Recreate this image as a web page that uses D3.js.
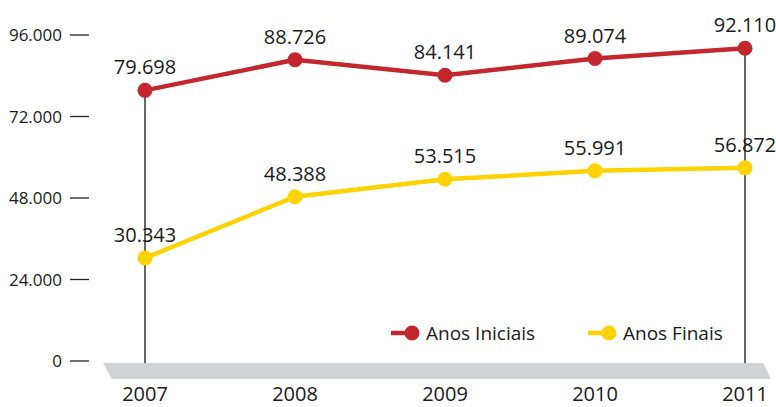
<!DOCTYPE html>
<html>
<meta charset="utf-8">
<script src="https://d3js.org/d3.v7.min.js"></script>
<style>
  body { margin: 0; background: #fff; }
  text { font-family: "Open Sans", "Noto Sans", sans-serif; fill: #1a1a1a; }
</style>
<body>
<div id="chart"></div>
<script>

// data
var years = ["2007", "2008", "2009", "2010", "2011"];
var anosIniciais = [79698, 88726, 84141, 89074, 92110];
var anosFinais = [30343, 48388, 53515, 55991, 56872];
var yTicks = [0, 24000, 48000, 72000, 96000];
var seriesNames = ["Anos Iniciais", "Anos Finais"];
var seriesColors = ["#c4262e", "#ffd200"];

var width = 776, height = 407;

var svg = d3.select("#chart")
    .append("svg")
        .attr("width", width)
        .attr("height", height);

// scales
var x = d3.scalePoint()
    .domain(years)
    .range([145, 745]);

var y = d3.scaleLinear()
    .domain([0, 96000])
    .range([361, 35]);

// pt-BR style thousands
var fmt = function(d) { return d3.format(",")(d).replace(/,/g, "."); };

// gray base band (slanted)
svg.append("path")
    .attr("d", "M103,363 L763,363 L771,379 L112,379 Z")
    .attr("fill", "#d1d2d4");

// Y axis: labels + short dashes
var yAxis = svg.append("g");
yAxis.selectAll("line")
    .data(yTicks)
    .enter()
    .append("line")
        .attr("x1", 70)
        .attr("x2", 89)
        .attr("y1", function(d) { return y(d); })
        .attr("y2", function(d) { return y(d); })
        .attr("stroke", "#222")
        .attr("stroke-width", 1.3);
yAxis.selectAll("text")
    .data(yTicks)
    .enter()
    .append("text")
        .attr("x", 62)
        .attr("y", function(d) { return y(d); })
        .attr("dy", "0.36em")
        .attr("text-anchor", "end")
        .style("font-size", "17px")
        .text(function(d) { return d === 0 ? "0" : fmt(d); });

// X labels
svg.selectAll(".year")
    .data(years)
    .enter()
    .append("text")
        .attr("class", "year")
        .attr("x", function(d) { return x(d); })
        .attr("y", 401)
        .attr("text-anchor", "middle")
        .style("font-size", "20px")
        .text(function(d) { return d; });

// vertical drop lines at first and last year
[0, years.length - 1].forEach(function(i) {
    svg.append("line")
        .attr("x1", x(years[i]))
        .attr("x2", x(years[i]))
        .attr("y1", y(anosIniciais[i]))
        .attr("y2", 363)
        .attr("stroke", "#333")
        .attr("stroke-width", 1.5);
});

// lines, dots, labels
var line = d3.line()
    .x(function(d, i) { return x(years[i]); })
    .y(function(d) { return y(d); });

[anosIniciais, anosFinais].forEach(function(vals, s) {
    svg.append("path")
        .datum(vals)
        .attr("d", line)
        .attr("fill", "none")
        .attr("stroke", seriesColors[s])
        .attr("stroke-width", 4.5);

    svg.selectAll(".dot" + s)
        .data(vals)
        .enter()
        .append("circle")
            .attr("cx", function(d, i) { return x(years[i]); })
            .attr("cy", function(d) { return y(d); })
            .attr("r", 7.5)
            .attr("fill", seriesColors[s]);

    svg.selectAll(".lbl" + s)
        .data(vals)
        .enter()
        .append("text")
            .attr("x", function(d, i) { return x(years[i]); })
            .attr("y", function(d) { return y(d) - 16; })
            .attr("text-anchor", "middle")
            .style("font-size", "20px")
            .text(function(d) { return fmt(d); });
});

// legend
var legendX = [391, 588];
var legend = svg.selectAll(".legend")
    .data(seriesNames)
    .enter()
    .append("g")
        .attr("transform", function(d, i) { return "translate(" + legendX[i] + ",333)"; });
legend.append("line")
    .attr("x1", 0)
    .attr("x2", 18)
    .attr("stroke", function(d, i) { return seriesColors[i]; })
    .attr("stroke-width", 4.5);
legend.append("circle")
    .attr("cx", 21)
    .attr("r", 7.5)
    .attr("fill", function(d, i) { return seriesColors[i]; });
legend.append("text")
    .attr("x", 35)
    .attr("dy", "0.36em")
    .style("font-size", "19px")
    .text(function(d) { return d; });

</script>
</body>
</html>
